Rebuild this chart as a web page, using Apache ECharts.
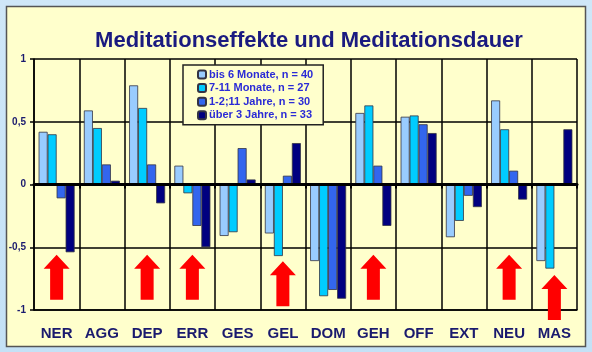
<!DOCTYPE html>
<html>
<head>
<meta charset="utf-8">
<script src="https://cdn.jsdelivr.net/npm/echarts@6/dist/echarts.min.js"></script>
<style>
  html, body { margin: 0; padding: 0; }
  body { background: linear-gradient(180deg, #cfe7f8 0%, #c4e1f6 100%); }
  #main { width: 592px; height: 352px; }
</style>
</head>
<body>
<div id="main"></div>
<script>
// Kategorien (Skalen)
var categories = ['NER', 'AGG', 'DEP', 'ERR', 'GES', 'GEL', 'DOM', 'GEH', 'OFF', 'EXT', 'NEU', 'MAS'];

// Gruppen nach Meditationsdauer
var groupNames = ['bis 6 Monate, n = 40', '7-11 Monate, n = 27', '1-2;11 Jahre, n = 30', 'über 3 Jahre, n = 33'];
var bis6Monate   = [0.42, 0.59, 0.79, 0.15, -0.41, -0.39, -0.61, 0.57, 0.54, -0.42, 0.67, -0.61];
var monate7bis11 = [0.40, 0.45, 0.61, -0.07, -0.38, -0.57, -0.89, 0.63, 0.55, -0.29, 0.44, -0.67];
var jahre1bis2   = [-0.11, 0.16, 0.16, -0.33, 0.29, 0.07, -0.84, 0.15, 0.48, -0.09, 0.11, 0];
var ueber3Jahre  = [-0.54, 0.03, -0.15, -0.50, 0.04, 0.33, -0.91, -0.33, 0.41, -0.18, -0.12, 0.44];

// rote Pfeile (Kategorie + Höhe auf der Werteachse)
var arrowCats   = ['NER', 'DEP', 'ERR', 'GEL', 'GEH', 'NEU', 'MAS'];
var arrowLevels = [-0.74, -0.74, -0.74, -0.79, -0.74, -0.74, -0.9];

var yTicks = { min: -1, max: 1, interval: 0.5 };

var colors = ['#99ccff', '#00ccff', '#3366ee', '#000080'];
var allValues = [bis6Monate, monate7bis11, jahre1bis2, ueber3Jahre];

var myChart = echarts.init(document.getElementById('main'));

var arrowPath = 'path://M13,0 L26,14 L19.5,14 L19.5,45 L6.5,45 L6.5,14 L0,14 Z';

var series = allValues.map(function(vals, i) {
  return {
    name: groupNames[i],
    type: 'bar',
    xAxisIndex: 0,
    data: vals,
    barWidth: 9,
    barGap: '0%',
    itemStyle: { color: colors[i], borderColor: '#333344', borderWidth: 0.8 }
  };
});

// Nulllinie
series[0].markLine = {
  silent: true,
  symbol: ['none', 'none'],
  label: { show: false },
  lineStyle: { color: '#000', width: 3, type: 'solid' },
  data: [{ yAxis: 0 }]
};

// Pfeile
series.push({
  name: 'Pfeile',
  type: 'scatter',
  xAxisIndex: 0,
  silent: true,
  symbol: arrowPath,
  symbolSize: [26, 45],
  itemStyle: { color: '#ff0000', opacity: 1 },
  z: 5,
  data: arrowCats.map(function(c, i) { return [c, arrowLevels[i]]; })
});

var option = {
  animation: false,
  graphic: [{
    type: 'rect',
    z: -10,
    shape: { x: 6.5, y: 6.5, width: 579, height: 340 },
    style: { fill: '#ffffcc', stroke: '#555555', lineWidth: 1.5 }
  }],
  title: {
    text: 'Meditationseffekte und Meditationsdauer',
    left: 304,
    textAlign: 'center',
    top: 25,
    textStyle: { fontFamily: 'Liberation Sans, Arial', fontSize: 22, fontWeight: 'bold', color: '#1a1a80' }
  },
  legend: {
    orient: 'vertical',
    left: 183,
    top: 65,
    itemWidth: 8,
    itemHeight: 8,
    itemGap: 2.6,
    padding: [4, 10, 4, 14],
    backgroundColor: '#ffffcc',
    borderColor: '#222222',
    borderWidth: 1.5,
    textStyle: { fontFamily: 'Liberation Sans, Arial', fontSize: 11, fontWeight: 'bold', color: '#2b2bd6', padding: [0, 0, 0, -2] },
    data: groupNames
  },
  grid: { left: 34, right: 15, top: 59, bottom: 42 },
  xAxis: [{
    type: 'category',
    data: categories,
    position: 'bottom',
    axisLine: { onZero: false, lineStyle: { color: '#000', width: 1.5 } },
    axisTick: { show: false },
    splitLine: { show: true, interval: 0, lineStyle: { color: '#000', width: 1.5 } },
    axisLabel: { interval: 0, margin: 16, fontFamily: 'Liberation Sans, Arial', fontSize: 15, fontWeight: 'bold', color: '#1a1a6e' }
  }, {
    type: 'category',
    data: categories,
    position: 'top',
    axisLine: { onZero: true, lineStyle: { color: '#000', width: 3 } },
    axisTick: { show: true, interval: 0, inside: true, length: 4, lineStyle: { color: '#000', width: 2 } },
    axisLabel: { show: false },
    splitLine: { show: false }
  }],
  yAxis: {
    type: 'value',
    min: yTicks.min,
    max: yTicks.max,
    interval: yTicks.interval,
    axisLine: { show: true, lineStyle: { color: '#000', width: 1.5 } },
    axisTick: { show: true, length: 4, lineStyle: { color: '#000', width: 1.5 } },
    splitLine: { lineStyle: { color: '#000', width: 1.5 } },
    axisLabel: {
      margin: 8,
      fontFamily: 'Liberation Sans, Arial',
      fontSize: 10,
      fontWeight: 'bold',
      color: '#1a1a6e',
      formatter: function(v) { return String(v).replace('.', ','); }
    }
  },
  series: series
};

myChart.setOption(option);
</script>
</body>
</html>
